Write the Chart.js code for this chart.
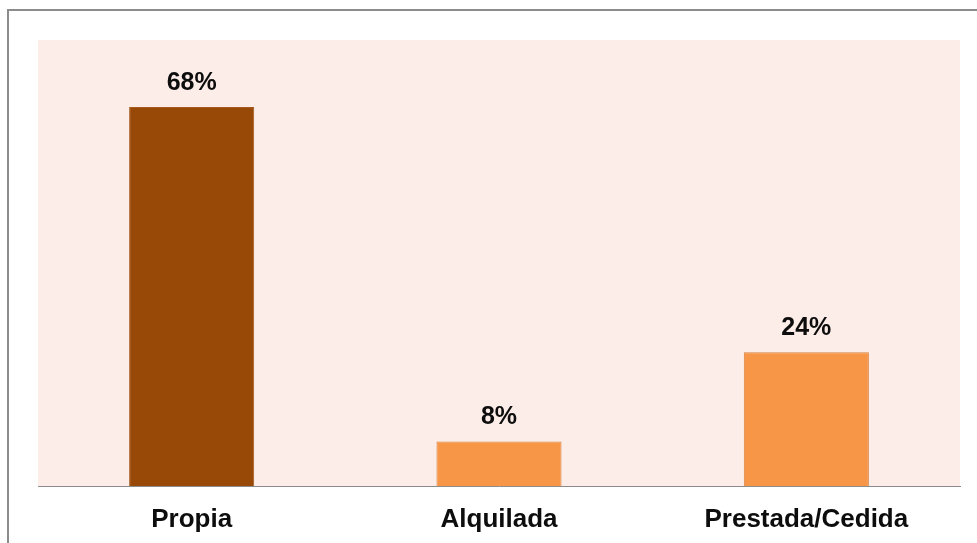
<!DOCTYPE html>
<html>
<head>
<meta charset="utf-8">
<script src="https://cdn.jsdelivr.net/npm/chart.js@4"></script>
<style>
html,body{margin:0;padding:0;background:#fff;overflow:hidden;}
#wrap{position:relative;width:977px;height:543px;}
#frame{position:absolute;left:7px;top:9px;width:1000px;height:600px;border:2px solid #8c8c8c;box-sizing:border-box;pointer-events:none;}
canvas{position:absolute;left:0;top:0;}
</style>
</head>
<body>
<div id="wrap">
<canvas id="c" width="977" height="543"></canvas>
<div id="frame"></div>
</div>
<script>
const categories = ["Propia", "Alquilada", "Prestada/Cedida"];
const values = [68, 8, 24];
const valueLabels = ["68%", "8%", "24%"];
const barColors = ["#984807", "#F79646", "#F79646"];
const barBorders = ["#A65A1E", "#D9823E", "#D9823E"];

const bgPlugin = {
  id: 'plotBg',
  beforeDraw(chart) {
    const {ctx, chartArea: a} = chart;
    ctx.save();
    ctx.fillStyle = '#FCEDE8';
    ctx.fillRect(a.left, a.top, a.right - a.left, a.bottom - a.top);
    ctx.restore();
  }
};
const labelPlugin = {
  id: 'valLabels',
  afterDatasetsDraw(chart) {
    const {ctx} = chart;
    const meta = chart.getDatasetMeta(0);
    ctx.save();
    ctx.font = 'bold 25px "Liberation Sans", Arial, sans-serif';
    ctx.fillStyle = '#0d0d0d';
    ctx.textAlign = 'center';
    ctx.textBaseline = 'alphabetic';
    meta.data.forEach((bar, i) => {
      ctx.fillText(valueLabels[i], bar.x, bar.y - 17);
    });
    ctx.restore();
  }
};

new Chart(document.getElementById('c'), {
  type: 'bar',
  data: {
    labels: categories,
    datasets: [{
      data: values,
      backgroundColor: barColors,
      borderColor: barBorders,
      borderWidth: 1,
      barPercentage: 0.407,
      categoryPercentage: 1
    }]
  },
  options: {
    responsive: false,
    animation: false,
    devicePixelRatio: 1,
    layout: {padding: {left: 38, right: 17, top: 40, bottom: 1}},
    plugins: {legend: {display: false}, tooltip: {enabled: false}},
    scales: {
      x: {
        afterFit(scale) { scale.height = 56; },
        grid: {display: false, drawTicks: false},
        border: {display: true, color: '#8c8c8c', width: 1},
        ticks: {
          color: '#0d0d0d',
          padding: 21,
          font: {family: '"Liberation Sans", Arial, sans-serif', size: 26, weight: 'bold', lineHeight: 1.0}
        }
      },
      y: {
        display: false,
        min: 0,
        max: 80
      }
    }
  },
  plugins: [bgPlugin, labelPlugin]
});
</script>
</body>
</html>
